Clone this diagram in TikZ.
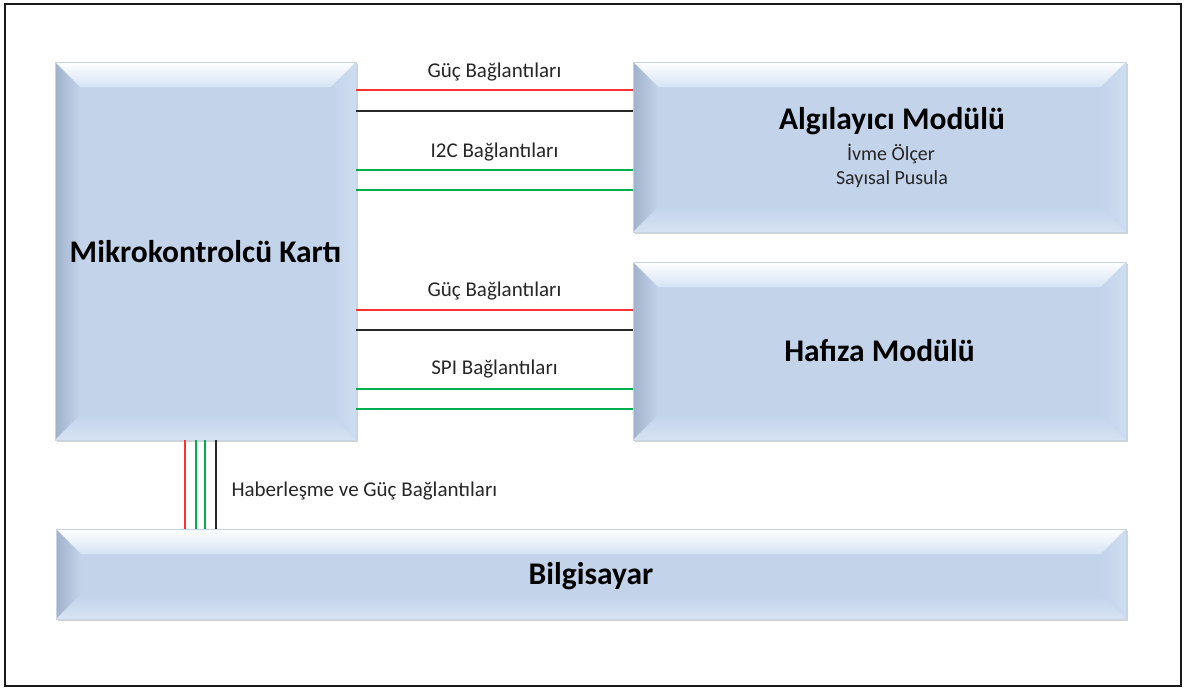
\documentclass[tikz,border=0pt]{standalone}
\usepackage{fontspec}
\setmainfont{Carlito}
\usetikzlibrary{calc,shadows}
\definecolor{face}{RGB}{195,211,234}
\definecolor{bevtop}{RGB}{214,228,245}
\definecolor{bevleft}{RGB}{160,178,202}
\definecolor{bevright}{RGB}{206,221,240}
\definecolor{bevbot}{RGB}{214,227,243}
\definecolor{edge}{RGB}{200,212,228}
\definecolor{wred}{RGB}{250,50,50}
\definecolor{wgreen}{RGB}{0,176,80}
\definecolor{wblack}{RGB}{40,40,40}
\tikzset{
  bevelbox/.style={draw=edge, line width=0.5pt, fill=face, inner sep=0pt, outer sep=0pt,
    drop shadow={opacity=0.35, shadow xshift=1.5pt, shadow yshift=-2pt},
    path picture={
      \coordinate (NW) at (path picture bounding box.north west);
      \coordinate (NE) at (path picture bounding box.north east);
      \coordinate (SW) at (path picture bounding box.south west);
      \coordinate (SE) at (path picture bounding box.south east);
      \coordinate (NWi) at ($(NW)+(25pt,-25pt)$);
      \coordinate (NEi) at ($(NE)+(-25pt,-25pt)$);
      \coordinate (SWi) at ($(SW)+(25pt,25pt)$);
      \coordinate (SEi) at ($(SE)+(-25pt,25pt)$);
      \shade[top color=white, bottom color=bevtop] (NW) -- (NE) -- (NEi) -- (NWi) -- cycle;
      \shade[left color=bevleft, right color=face] (NW) -- (NWi) -- (SWi) -- (SW) -- cycle;
      \shade[left color=face, right color=bevright] (NE) -- (SE) -- (SEi) -- (NEi) -- cycle;
      \shade[top color=face, bottom color=bevbot] (SW) -- (SWi) -- (SEi) -- (SE) -- cycle;
    }},
  title/.style={font=\fontsize{31.5}{36}\selectfont\bfseries, text=black},
  lbl/.style={font=\fontsize{21}{25}\selectfont, text=black!85},
  sub/.style={font=\fontsize{20}{24}\selectfont, text=black!85},
  wire/.style={line width=1.3pt},
  pwr/.style={wire, draw=wred},
  gnd/.style={wire, draw=wblack},
  sig/.style={wire, draw=wgreen}
}
\begin{document}
\begin{tikzpicture}[x=1pt,y=-1pt]
\useasboundingbox (0,0) rectangle (1187,689);
\draw[line width=2pt, draw=black!90] (5,4) rectangle (1181,686);

% boxes
\node[bevelbox, minimum width=301pt, minimum height=378pt] (mk) at (205.5,251) {};
\node[bevelbox, minimum width=493pt, minimum height=170pt] (alg) at (879.5,147) {};
\node[bevelbox, minimum width=493pt, minimum height=178pt] (haf) at (879.5,351) {};
\node[bevelbox, minimum width=1070pt, minimum height=90pt] (pc) at (591,574) {};

% box texts
\node[title] (mktext) at (205.5,252) {Mikrokontrolcü Kartı};
\node[title] (algtitle) at (892,121) {Algılayıcı Modülü};
\node[sub] (algsub1) at (891,154) {İvme Ölçer};
\node[sub] (algsub2) at (892,179) {Sayısal Pusula};
\node[title] (haftext) at (879.5,351) {Hafıza Modülü};
\node[title] (pctext) at (591,576) {Bilgisayar};

% upper connections
\draw[pwr] (mk.east |- 0,90) -- (alg.west |- 0,90);
\draw[gnd] (mk.east |- 0,111) -- (alg.west |- 0,111);
\draw[sig] (mk.east |- 0,170) -- (alg.west |- 0,170);
\draw[sig] (mk.east |- 0,190) -- (alg.west |- 0,190);
\node[lbl] (l1) at (494.5,72) {Güç Bağlantıları};
\node[lbl] (l2) at (494.5,152) {I2C Bağlantıları};

% lower connections
\draw[pwr] (mk.east |- 0,310) -- (haf.west |- 0,310);
\draw[gnd] (mk.east |- 0,330) -- (haf.west |- 0,330);
\draw[sig] (mk.east |- 0,389) -- (haf.west |- 0,389);
\draw[sig] (mk.east |- 0,409) -- (haf.west |- 0,409);
\node[lbl] (l3) at (494.5,291) {Güç Bağlantıları};
\node[lbl] (l4) at (494.5,369) {SPI Bağlantıları};

% vertical connections
\draw[pwr] (mk.south -| 185,0) -- (pc.north -| 185,0);
\draw[sig] (mk.south -| 196,0) -- (pc.north -| 196,0);
\draw[sig] (mk.south -| 205,0) -- (pc.north -| 205,0);
\draw[gnd] (mk.south -| 216,0) -- (pc.north -| 216,0);
\node[lbl, anchor=west] (l5) at (228,491) {Haberleşme ve Güç Bağlantıları};
\end{tikzpicture}
\end{document}
